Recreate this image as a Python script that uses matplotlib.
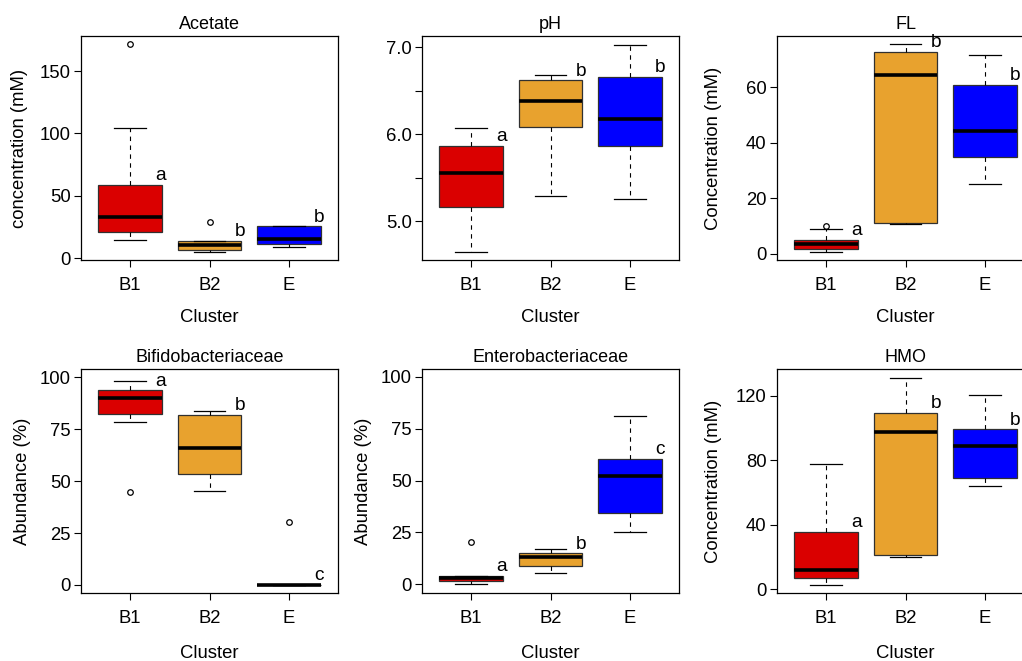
import matplotlib
matplotlib.use('Agg')
import matplotlib.pyplot as plt

plt.rcParams['font.family'] = ['Liberation Sans', 'DejaVu Sans']

clusters = ['B1', 'B2', 'E']
box_cols = ['#DA0000', '#E8A22E', '#0000FF']

# five numbers per cluster: low whisker, Q1, median, Q3, high whisker
acetate = [[14.4, 20.9, 32.6, 58.5, 104.5], [4.8, 6.4, 10.2, 13.9, 13.9], [8.8, 11.0, 15.5, 25.4, 26.0]]
acetate_out = [[172], [28.6], []]
acetate_let = ['a', 'b', 'b']

ph = [[4.65, 5.17, 5.56, 5.87, 6.07], [5.29, 6.08, 6.38, 6.62, 6.68], [5.26, 5.87, 6.18, 6.66, 7.03]]
ph_out = [[], [], []]
ph_let = ['a', 'b', 'b']

fl = [[0.7, 1.6, 3.4, 4.9, 8.9], [10.7, 10.9, 64.3, 72.8, 75.6], [25.0, 34.9, 44.2, 60.8, 71.4]]
fl_out = [[9.9], [], []]
fl_let = ['a', 'b', 'b']

bifido = [[78.4, 82.5, 90.2, 93.75, 98.2], [45.2, 53.2, 65.9, 81.9, 83.7], [0, 0, 0, 0, 0]]
bifido_out = [[44.6], [], [30.1]]
bifido_let = ['a', 'b', 'c']

entero = [[0.0, 1.6, 2.9, 4.0, 4.0], [5.4, 9.0, 13.0, 14.9, 17.0], [25.2, 34.5, 52.4, 60.6, 81.3]]
entero_out = [[20.2], [], []]
entero_let = ['a', 'b', 'c']

hmo = [[2.9, 7.2, 12.2, 35.5, 77.7], [20.2, 21.0, 97.3, 109.5, 131.3], [64.1, 69.1, 88.7, 99.2, 120.6]]
hmo_out = [[], [], []]
hmo_let = ['a', 'b', 'b']

panels = [
    ('Acetate', acetate, acetate_out, acetate_let, 'concentration (mM)', (-1.6, 178.3), [0, 50, 100, 150], None),
    ('pH', ph, ph_out, ph_let, '', (4.555, 7.13), [5.0, 5.5, 6.0, 6.5, 7.0], ['5.0', '', '6.0', '', '7.0']),
    ('FL', fl, fl_out, fl_let, 'Concentration (mM)', (-2.3, 78.4), [0, 20, 40, 60], None),
    ('Bifidobacteriaceae', bifido, bifido_out, bifido_let, 'Abundance (%)', (-3.9, 104), [0, 25, 50, 75, 100], None),
    ('Enterobacteriaceae', entero, entero_out, entero_let, 'Abundance (%)', (-4.2, 103.8), [0, 25, 50, 75, 100], None),
    ('HMO', hmo, hmo_out, hmo_let, 'Concentration (mM)', (-2.3, 136.7), [0, 40, 80, 120], None),
]

W, H = 1022, 661
fig = plt.figure(figsize=(W / 100, H / 100), dpi=100)
lefts = [81, 422, 777]
tops = [36, 369]
aw, ah = 257, 224
ylab_x = [-0.206, -0.214, -0.214, -0.193, -0.193, -0.214]
xlab_y = [-0.218, -0.232]
fs = 13.3

for i, (title, st, outs, lets, ylab, ylim, yt, ytl) in enumerate(panels):
    r, c = divmod(i, 3)
    ax = fig.add_axes([lefts[c] / W, (H - tops[r] - ah) / H, aw / W, ah / H])
    stats = []
    for k in range(3):
        lo, q1, med, q3, hi = st[k]
        stats.append(dict(whislo=lo, q1=q1, med=med, q3=q3, whishi=hi, fliers=outs[k]))
    bp = ax.bxp(stats, positions=[1, 2, 3], widths=0.8, capwidths=0.4, patch_artist=True,
                boxprops=dict(edgecolor='#303030', linewidth=0.9),
                medianprops=dict(color='black', linewidth=2.6, solid_capstyle='butt'),
                whiskerprops=dict(color='black', linewidth=0.8, linestyle=(0, (4, 4))),
                capprops=dict(color='black', linewidth=0.9),
                flierprops=dict(marker='o', markersize=4, markerfacecolor='none',
                                markeredgecolor='black', markeredgewidth=0.9))
    for patch, col in zip(bp['boxes'], box_cols):
        patch.set_facecolor(col)
    for k in range(3):
        ax.annotate(lets[k], (k + 1 + 0.38, st[k][3]), xytext=(0, 0.5), textcoords='offset points',
                    ha='center', va='bottom', fontsize=fs + 0.5)
    ax.set_xlim(0.38, 3.62)
    ax.set_ylim(*ylim)
    ax.set_yticks(yt)
    if ytl is not None:
        ax.set_yticklabels(ytl)
    ax.set_xticks([1, 2, 3])
    ax.set_xticklabels(clusters)
    ax.tick_params(axis='y', length=5, width=0.8, labelsize=fs, pad=2.5)
    ax.tick_params(axis='x', length=5, width=0.8, labelsize=fs, pad=7.5)
    for sp in ax.spines.values():
        sp.set_linewidth(0.9)
    ax.set_title(title, fontsize=fs - 0.3, pad=5)
    ax.set_xlabel('Cluster', fontsize=fs)
    ax.xaxis.set_label_coords(0.5, xlab_y[r])
    if ylab:
        ax.set_ylabel(ylab, fontsize=fs)
        ax.yaxis.set_label_coords(ylab_x[i], 0.5)

fig.savefig('out.png', dpi=100)
